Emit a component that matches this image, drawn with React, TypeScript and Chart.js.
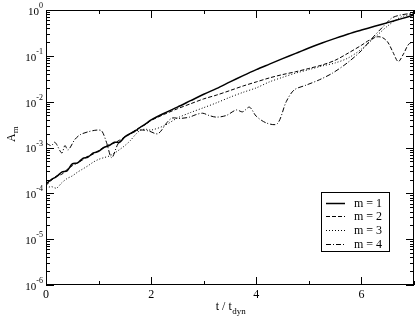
import React, { useEffect, useRef } from 'react';
import { Chart, registerables } from 'chart.js';

Chart.register(...registerables);

const seriesLabels = ['m = 1', 'm = 2', 'm = 3', 'm = 4'];

const t1 = [0, 0.1, 0.2, 0.3, 0.4, 0.5, 0.6, 0.7, 0.8, 0.9, 1.0, 1.1, 1.2, 1.3, 1.4, 1.5, 1.6, 1.7, 1.8, 1.9, 2.0, 2.25, 2.5, 2.75, 3.0, 3.25, 3.5, 3.75, 4.0, 4.25, 4.5, 4.75, 5.0, 5.25, 5.5, 5.75, 6.0, 6.25, 6.5, 6.75, 7.0];
const a1 = [1.6e-4, 2.0e-4, 2.3e-4, 2.9e-4, 3.1e-4, 4.4e-4, 4.6e-4, 5.8e-4, 6.2e-4, 7.6e-4, 8.2e-4, 1.0e-3, 1.1e-3, 1.3e-3, 1.3e-3, 1.7e-3, 2.0e-3, 2.3e-3, 2.8e-3, 3.3e-3, 4.0e-3, 5.6e-3, 7.6e-3, 1.05e-2, 1.45e-2, 1.95e-2, 2.7e-2, 3.7e-2, 5.0e-2, 6.6e-2, 8.7e-2, 0.113, 0.148, 0.19, 0.24, 0.3, 0.365, 0.44, 0.53, 0.64, 0.78];

const t2 = [0, 0.1, 0.2, 0.3, 0.4, 0.5, 0.6, 0.7, 0.8, 0.9, 1.0, 1.1, 1.2, 1.3, 1.4, 1.5, 1.6, 1.7, 1.8, 1.9, 2.0, 2.25, 2.5, 2.75, 3.0, 3.25, 3.5, 3.75, 4.0, 4.25, 4.5, 4.75, 5.0, 5.25, 5.5, 5.75, 6.0, 6.15, 6.3, 6.4, 6.5, 6.6, 6.7, 6.8, 6.9, 7.0];
const a2 = [1.5e-4, 1.9e-4, 2.4e-4, 2.6e-4, 3.3e-4, 4.0e-4, 4.6e-4, 5.4e-4, 6.5e-4, 7.2e-4, 8.6e-4, 1.0e-3, 1.15e-3, 1.25e-3, 1.45e-3, 1.7e-3, 2.0e-3, 2.4e-3, 2.8e-3, 3.2e-3, 3.9e-3, 5.3e-3, 7.0e-3, 9.0e-3, 1.15e-2, 1.4e-2, 1.75e-2, 2.2e-2, 2.7e-2, 3.3e-2, 3.9e-2, 4.5e-2, 5.3e-2, 6.3e-2, 8.0e-2, 0.115, 0.17, 0.22, 0.26, 0.25, 0.2, 0.12, 0.075, 0.11, 0.18, 0.2];

const t3 = [0, 0.1, 0.2, 0.3, 0.4, 0.5, 0.6, 0.7, 0.8, 0.9, 1.0, 1.1, 1.2, 1.3, 1.4, 1.5, 1.6, 1.7, 1.8, 1.9, 2.0, 2.25, 2.5, 2.75, 3.0, 3.25, 3.5, 3.75, 4.0, 4.25, 4.5, 4.75, 5.0, 5.25, 5.5, 5.75, 6.0, 6.25, 6.5, 6.75, 7.0];
const a3 = [1.3e-4, 1.4e-4, 1.3e-4, 1.7e-4, 2.1e-4, 2.4e-4, 2.9e-4, 3.4e-4, 4.0e-4, 4.8e-4, 5.5e-4, 6.0e-4, 6.5e-4, 7.5e-4, 9.0e-4, 1.1e-3, 1.4e-3, 1.9e-3, 2.4e-3, 2.5e-3, 2.4e-3, 3.0e-3, 4.4e-3, 5.8e-3, 7.4e-3, 9.5e-3, 1.25e-2, 1.6e-2, 2.0e-2, 2.7e-2, 3.4e-2, 4.2e-2, 5.0e-2, 6.0e-2, 7.0e-2, 9.0e-2, 0.14, 0.25, 0.45, 0.7, 0.83];

const t4 = [0, 0.1, 0.17, 0.3, 0.36, 0.42, 0.55, 0.65, 0.8, 0.97, 1.06, 1.15, 1.25, 1.37, 1.5, 1.6, 1.78, 1.95, 2.13, 2.3, 2.4, 2.55, 2.73, 2.85, 2.98, 3.1, 3.24, 3.43, 3.62, 3.74, 3.87, 4.0, 4.2, 4.4, 4.57, 4.72, 4.95, 5.2, 5.45, 5.73, 6.0, 6.2, 6.4, 6.58, 6.75, 7.0];
const a4 = [1.25e-3, 1.1e-3, 1.3e-3, 7.6e-4, 1.1e-3, 8.8e-4, 1.5e-3, 1.9e-3, 2.2e-3, 2.4e-3, 2.3e-3, 1.3e-3, 6.0e-4, 1.2e-3, 1.7e-3, 2.0e-3, 2.4e-3, 2.3e-3, 2.0e-3, 3.5e-3, 4.4e-3, 4.3e-3, 4.6e-3, 5.2e-3, 5.6e-3, 5.0e-3, 4.6e-3, 5.0e-3, 6.6e-3, 6.0e-3, 7.6e-3, 4.8e-3, 3.4e-3, 3.3e-3, 1.0e-2, 1.8e-2, 2.3e-2, 3.0e-2, 4.2e-2, 7.0e-2, 0.13, 0.24, 0.42, 0.67, 0.78, 0.86];

const xTickValues = [0, 2, 4, 6];
const yExponents = [-6, -5, -4, -3, -2, -1, 0];
const xTitleMain = 't / t';
const xTitleSub = 'dyn';
const yTitleMain = 'A';
const yTitleSub = 'm';

const FONT = '"Liberation Serif", "Times New Roman", serif';

const toPts = (t: number[], a: number[]) => t.map((x, i) => ({ x, y: a[i] }));

const decorPlugin = {
  id: 'decor',
  afterDraw(chart: any) {
    const { ctx, chartArea, scales } = chart;
    const { left, right, top, bottom } = chartArea;
    const xs = scales.x;
    const ys = scales.y;
    ctx.save();
    ctx.strokeStyle = '#000';
    ctx.fillStyle = '#000';
    ctx.lineWidth = 1;
    // frame
    ctx.strokeRect(left + 0.5, top + 0.5, right - left - 1, bottom - top - 1);
    const seg = (x1: number, y1: number, x2: number, y2: number) => {
      ctx.beginPath();
      ctx.moveTo(x1, y1);
      ctx.lineTo(x2, y2);
      ctx.stroke();
    };
    // x ticks (inside, mirrored)
    for (let v = Math.ceil(xs.min); v <= xs.max; v++) {
      const px = Math.round(xs.getPixelForValue(v)) + 0.5;
      const len = v % 2 === 0 ? 8 : 4;
      seg(px, bottom, px, bottom - len);
      seg(px, top, px, top + len);
    }
    // y ticks (log, inside, mirrored)
    for (let e = -6; e <= 0; e++) {
      for (let k = 1; k <= 9; k++) {
        const v = k * Math.pow(10, e);
        if (v > ys.max * 1.0001 || v < ys.min * 0.9999) continue;
        const py = Math.round(ys.getPixelForValue(v)) + 0.5;
        const len = k === 1 ? 8 : 4;
        seg(left, py, left + len, py);
        seg(right, py, right - len, py);
      }
    }
    // y tick labels 10^n
    for (const e of yExponents) {
      const py = ys.getPixelForValue(Math.pow(10, e));
      const sup = String(e);
      ctx.font = `8px ${FONT}`;
      const sw = ctx.measureText(sup).width;
      ctx.textAlign = 'left';
      ctx.textBaseline = 'alphabetic';
      const xr = left - 3;
      ctx.fillText(sup, xr - sw, py - 2);
      ctx.font = `11px ${FONT}`;
      ctx.textAlign = 'right';
      ctx.textBaseline = 'middle';
      ctx.fillText('10', xr - sw, py + 2);
    }
    // x title
    ctx.textAlign = 'left';
    ctx.textBaseline = 'alphabetic';
    ctx.font = `12px ${FONT}`;
    const mw = ctx.measureText(xTitleMain).width;
    ctx.font = `9px ${FONT}`;
    const sw2 = ctx.measureText(xTitleSub).width;
    const cx = (left + right) / 2;
    const x0 = cx - (mw + sw2) / 2 + 0.5;
    ctx.font = `12px ${FONT}`;
    ctx.fillText(xTitleMain, x0, 310);
    ctx.font = `9px ${FONT}`;
    ctx.fillText(xTitleSub, x0 + mw + 0.5, 314);
    // y title rotated
    ctx.save();
    ctx.translate(15, 138);
    ctx.rotate(-Math.PI / 2);
    ctx.font = `12px ${FONT}`;
    ctx.fillText(yTitleMain, -4, 0);
    const aw = ctx.measureText(yTitleMain).width;
    ctx.font = `9px ${FONT}`;
    ctx.fillText(yTitleSub, -4 + aw, 3);
    ctx.restore();
    // legend
    const bx = 321, by = 192, bw = 68, bh = 59;
    ctx.fillStyle = '#fff';
    ctx.fillRect(bx, by, bw, bh);
    ctx.fillStyle = '#000';
    ctx.strokeRect(bx + 0.5, by + 0.5, bw, bh);
    chart.data.datasets.forEach((ds: any, i: number) => {
      const ry = by + 10.5 + i * 13.8;
      ctx.save();
      ctx.lineWidth = ds.borderWidth;
      ctx.setLineDash(ds.borderDash || []);
      seg(bx + 5, Math.round(ry) + 0.5, bx + 24, Math.round(ry) + 0.5);
      ctx.restore();
      ctx.font = `12px ${FONT}`;
      ctx.textAlign = 'left';
      ctx.textBaseline = 'middle';
      ctx.fillText(ds.label, bx + 33, ry + 1);
    });
    ctx.restore();
  },
};

export default function App() {
  const ref = useRef<HTMLCanvasElement | null>(null);
  useEffect(() => {
    const canvas = ref.current;
    if (!canvas) return;
    const mk = (i: number, t: number[], a: number[], dash: number[], w: number) => ({
      label: seriesLabels[i],
      data: toPts(t, a),
      borderColor: '#000',
      backgroundColor: '#000',
      borderWidth: w,
      borderDash: dash,
      pointRadius: 0,
      tension: 0.3,
      fill: false,
    });
    const chart = new Chart(canvas, {
      type: 'line',
      data: {
        datasets: [
          mk(0, t1, a1, [], 1.5),
          mk(1, t2, a2, [4, 2], 1),
          mk(2, t3, a3, [1, 2], 1),
          mk(3, t4, a4, [5, 2, 1, 2], 1),
        ],
      },
      options: {
        responsive: false,
        animation: false,
        devicePixelRatio: 1,
        layout: { padding: { top: 10, right: 1, left: 0, bottom: 0 } },
        plugins: { legend: { display: false }, tooltip: { enabled: false } },
        scales: {
          x: {
            type: 'linear',
            min: 0,
            max: 7,
            grid: { display: false, drawTicks: false },
            border: { display: false },
            afterBuildTicks: (s: any) => {
              s.ticks = xTickValues.map((v) => ({ value: v }));
            },
            afterFit: (s: any) => {
              s.height = 36;
            },
            ticks: {
              autoSkip: false,
              maxRotation: 0,
              padding: 3,
              color: '#000',
              font: { family: FONT, size: 12 },
              callback: (v: any) => String(v),
            },
          },
          y: {
            type: 'logarithmic',
            min: 1e-6,
            max: 1,
            grid: { display: false, drawTicks: false },
            border: { display: false },
            afterFit: (s: any) => {
              s.width = 46;
            },
            ticks: { display: false },
          },
        },
      },
      plugins: [decorPlugin],
    } as any);
    return () => chart.destroy();
  }, []);
  return (
    <div style={{ position: 'absolute', left: 0, top: 0, width: 415, height: 321, background: '#fff' }}>
      <canvas ref={ref} width={415} height={321} />
    </div>
  );
}
